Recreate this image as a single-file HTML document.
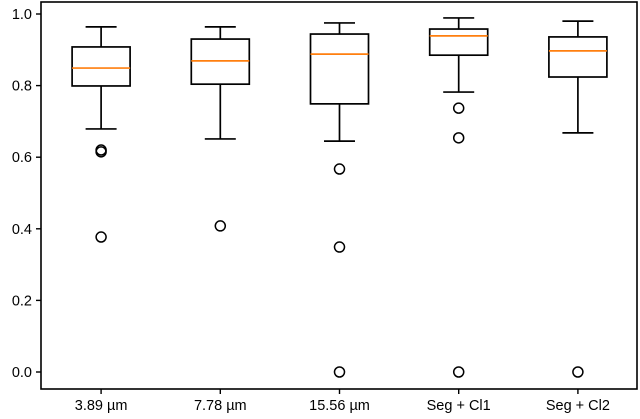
<!DOCTYPE html>
<html><head><meta charset="utf-8"><style>
html,body{margin:0;padding:0;background:#fff;}
svg{display:block;font-family:"Liberation Sans","DejaVu Sans",sans-serif;}
</style></head><body>
<svg id="c" width="640" height="419"></svg>
<script>
const categories=["3.89 µm","7.78 µm","15.56 µm","Seg + Cl1","Seg + Cl2"];
const whiskerLow=[0.679,0.651,0.645,0.782,0.668];
const q1=[0.799,0.804,0.749,0.885,0.824];
const medians=[0.849,0.869,0.888,0.939,0.897];
const q3=[0.908,0.930,0.944,0.958,0.936];
const whiskerHigh=[0.964,0.964,0.975,0.989,0.980];
const outliers=[[0.620,0.615,0.377],[0.408],[0.567,0.349,0.0],[0.737,0.654,0.0],[0.0]];
const yTicks=[0,0.2,0.4,0.6,0.8,1.0];
const yTickLabels=["0.0","0.2","0.4","0.6","0.8","1.0"];

const NS="http://www.w3.org/2000/svg";
const svg=document.getElementById('c');
const L=41,R=637,T=2,B=389;
const y=v=>372-358*v;
const step=(R-L)/categories.length;
const x=i=>L+step*(i+0.5)+0.5;
function mk(tag,a,p){const e=document.createElementNS(NS,tag);for(const k in a)e.setAttribute(k,a[k]);(p||svg).appendChild(e);return e;}
const frame=mk('rect',{x:L,y:T,width:R-L,height:B-T,fill:'none',stroke:'#000','stroke-width':1.6});


yTicks.forEach((v,i)=>{
  const t=mk('line',{x1:L-5,x2:L,y1:y(v),y2:y(v),stroke:'#000','stroke-width':1.4});
  
  
  const tx=mk('text',{x:L-9,y:y(v)+5,'text-anchor':'end','font-size':14.5,fill:'#000'});
  tx.textContent=yTickLabels[i];
  
  
});
categories.forEach((c,i)=>{
  const cx=x(i);
  const g=mk('g',{});
  
  
  const hw=29,cw=15.5,s={stroke:'#000','stroke-width':1.7};
  mk('line',Object.assign({x1:cx,x2:cx,y1:y(whiskerLow[i]),y2:y(q1[i])},s),g);
  mk('line',Object.assign({x1:cx,x2:cx,y1:y(q3[i]),y2:y(whiskerHigh[i])},s),g);
  mk('line',Object.assign({x1:cx-cw,x2:cx+cw,y1:y(whiskerLow[i]),y2:y(whiskerLow[i])},s),g);
  mk('line',Object.assign({x1:cx-cw,x2:cx+cw,y1:y(whiskerHigh[i]),y2:y(whiskerHigh[i])},s),g);
  mk('rect',Object.assign({x:cx-hw,y:y(q3[i]),width:2*hw,height:y(q1[i])-y(q3[i]),fill:'none'},s),g);
  mk('line',{x1:cx-hw,x2:cx+hw,y1:y(medians[i]),y2:y(medians[i]),stroke:'#ff7f0e','stroke-width':1.7},g);
  outliers[i].forEach(o=>{
    const p=mk('circle',{cx:cx,cy:y(o),r:5,fill:'none',stroke:'#000','stroke-width':1.5},g);
    
    
  });
  const t=mk('line',{x1:cx,x2:cx,y1:B,y2:B+5,stroke:'#000','stroke-width':1.4});
  
  
  const tx=mk('text',{x:cx,y:B+21,'text-anchor':'middle','font-size':14.5,fill:'#000'});
  tx.textContent=c;
  
  
});
</script>
</body></html>
